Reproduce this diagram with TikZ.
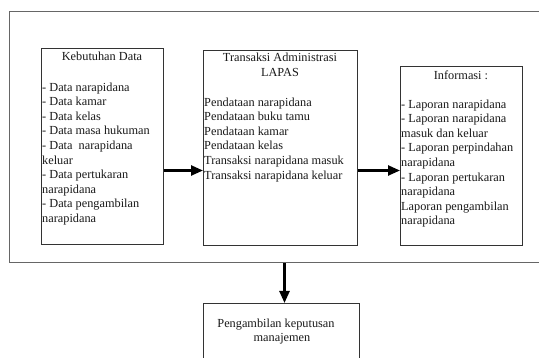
\documentclass[tikz,border=0pt]{standalone}
\usepackage{fontspec}
\setmainfont{Liberation Serif}
\usetikzlibrary{arrows.meta,calc}
\newcommand\diagfont{\fontsize{12.3}{14.6}\selectfont}
\tikzset{
  boxnode/.style={draw=black!80, line width=1pt, minimum width=#1, inner sep=0, anchor=north west},
  outerbox/.style={draw=black!60, line width=1.2pt, inner sep=0, anchor=north west},
  txt/.style={font=\diagfont, inner sep=0, anchor=base west, text=black!90},
  ctxt/.style={font=\diagfont, inner sep=0, anchor=base, text=black!90},
  arr/.style={line width=2.4pt, -{Triangle[length=12pt,width=10pt]}},
}
\begin{document}
\begin{tikzpicture}[x=1pt,y=-1pt]
\useasboundingbox (0,0) rectangle (539,358);
\clip (0,0) rectangle (539,358);
\fill[white] (0,0) rectangle (539,358);
% frames
\node[outerbox, minimum width=560pt, minimum height=251pt] (outer) at (9,11) {};
\node[boxnode=122pt, minimum height=196pt] (b1) at (41,48) {};
\node[boxnode=154pt, minimum height=195pt] (b2) at (203,50) {};
\node[boxnode=122pt, minimum height=179pt] (b3) at (400,66) {};
\node[boxnode=156pt, minimum height=70pt] (b4) at (203,303) {};
% box 1 text
\node[ctxt] (t1) at (102,60.8) {Kebutuhan Data};
\foreach \t [count=\i from 0] in {- Data narapidana, - Data kamar, - Data kelas, - Data masa hukuman, - Data~~narapidana, keluar, - Data pertukaran, narapidana, - Data pengambilan, narapidana}
  \node[txt] (l1-\i) at (42,91.2+\i*14.6) {\t};
% box 2 text
\node[ctxt] (t2a) at (280,61.5) {Transaksi Administrasi};
\node[ctxt] (t2b) at (280,76.3) {LAPAS};
\foreach \t [count=\i from 0] in {Pendataan narapidana, Pendataan buku tamu, Pendataan kamar, Pendataan kelas, Transaksi narapidana masuk, Transaksi narapidana keluar}
  \node[txt] (l2-\i) at (204,106.2+\i*14.6) {\t};
% box 3 text
\node[ctxt] (t3) at (461,79.2) {Informasi :};
\foreach \t [count=\i from 0] in {- Laporan narapidana, - Laporan narapidana, masuk dan keluar, - Laporan perpindahan, narapidana, - Laporan pertukaran, narapidana, Laporan pengambilan, narapidana}
  \node[txt] (l3-\i) at (401,108.2+\i*14.6) {\t};
% box 4 text
\node[ctxt] (t4a) at (276,327.5) {Pengambilan keputusan};
\node[ctxt] (t4b) at (282,341.8) {manajemen};
% arrows
\draw[arr] ([yshift=-24pt]b1.east) -- ([yshift=-24pt]b1.east -| b2.west);
\draw[arr] ([yshift=-22.5pt]b2.east) -- ([yshift=-22.5pt]b2.east -| b3.west);
\draw[arr] ([xshift=3pt]b4.north |- outer.south) -- ([xshift=3pt]b4.north);
\end{tikzpicture}
\end{document}
